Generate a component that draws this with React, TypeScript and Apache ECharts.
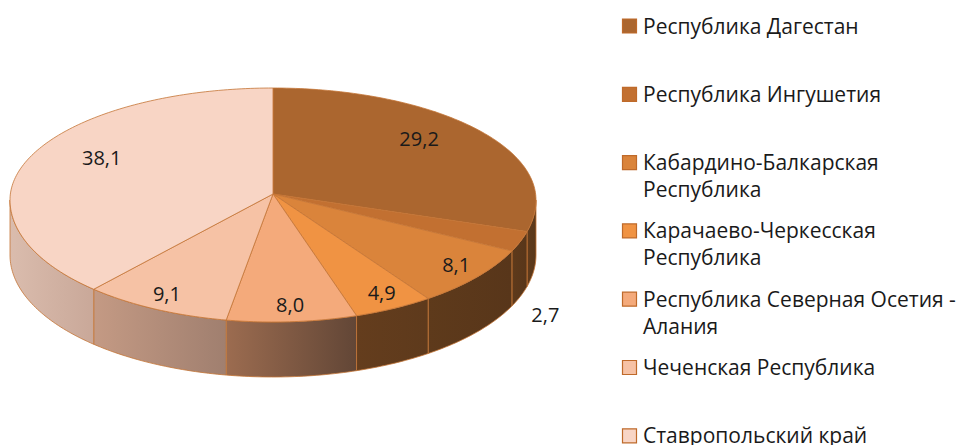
import React, { useEffect, useRef } from "react";
import * as echarts from "echarts";

// ---- data ----
const REGIONS: string[] = [
  "Республика Дагестан",
  "Республика Ингушетия",
  "Кабардино-Балкарская Республика",
  "Карачаево-Черкесская Республика",
  "Республика Северная Осетия - Алания",
  "Чеченская Республика",
  "Ставропольский край",
];
const LEGEND_LABELS: string[] = [
  "Республика Дагестан",
  "Республика Ингушетия",
  "Кабардино-Балкарская\nРеспублика",
  "Карачаево-Черкесская\nРеспублика",
  "Республика Северная Осетия -\nАлания",
  "Чеченская Республика",
  "Ставропольский край",
];
const VALUES: number[] = [29.2, 2.7, 8.1, 4.9, 8.0, 9.1, 38.1];

// ---- style ----
const TOP_COLORS = ["#AB662F", "#C27031", "#DA843B", "#F09343", "#F4AA7B", "#F6C2A5", "#F8D5C5"];
const SIDE_COLORS: [string, string][] = [
  ["#603B1C", "#5A381A"],
  ["#5E3A1B", "#58361A"],
  ["#5E3A1B", "#58361A"],
  ["#643D1D", "#5E3A1C"],
  ["#9C6C50", "#624636"],
  ["#C49A84", "#A07F6F"],
  ["#DABCAD", "#C9A899"],
];
const EDGE = "#C47536";
const FONT = "'Open Sans'";

const CX = 273;
const APEX_Y = 194;
const EQ_Y = 200;
const RX = 263;
const RY_BACK = 112;
const RY_FRONT = 122;
const DEPTH = 55;

const TOTAL = VALUES.reduce((a, b) => a + b, 0);
const STARTS: number[] = [];
{
  let acc = 0;
  for (const v of VALUES) {
    STARTS.push((acc / TOTAL) * Math.PI * 2);
    acc += v;
  }
}

function pt(phi: number, dy = 0): [number, number] {
  const c = Math.cos(phi);
  const y = c >= 0 ? EQ_Y - RY_BACK * c : EQ_Y - RY_FRONT * c;
  return [CX + RX * Math.sin(phi), y + dy];
}

function arc(a0: number, a1: number, dy = 0): [number, number][] {
  const n = Math.max(2, Math.ceil(((a1 - a0) * 180) / Math.PI));
  const out: [number, number][] = [];
  for (let k = 0; k <= n; k++) out.push(pt(a0 + ((a1 - a0) * k) / n, dy));
  return out;
}

function fmt(v: number) {
  return v.toFixed(1).replace(".", ",");
}

export default function App() {
  const ref = useRef<HTMLDivElement>(null);
  useEffect(() => {
    if (!ref.current) return;
    const chart = echarts.init(ref.current, undefined, { renderer: "svg" });
    const data = VALUES.map((v, i) => ({ name: REGIONS[i], value: v }));

    const sideSeries = {
      type: "custom",
      name: "sides",
      coordinateSystem: "none",
      silent: true,
      z: 1,
      data,
      renderItem: (params: any, api: any) => {
        const i = params.dataIndex;
        const v = api.value(0);
        const a0 = STARTS[i];
        const a1 = a0 + (v / TOTAL) * Math.PI * 2;
        const s = Math.max(a0, Math.PI / 2);
        const e = Math.min(a1, (Math.PI * 3) / 2);
        if (e <= s) return { type: "group", children: [] };
        const top = arc(s, e, 0);
        const bottom = arc(s, e, DEPTH).reverse();
        return {
          type: "polygon",
          shape: { points: top.concat(bottom) },
          style: {
            fill: {
              type: "linear",
              x: 0,
              y: 0,
              x2: 1,
              y2: 0,
              colorStops: [
                { offset: 0, color: SIDE_COLORS[i][0] },
                { offset: 1, color: SIDE_COLORS[i][1] },
              ],
            },
            stroke: EDGE,
            lineWidth: 0.8,
          },
        };
      },
    };

    const topSeries = {
      type: "custom",
      name: "tops",
      coordinateSystem: "none",
      silent: true,
      z: 2,
      data,
      renderItem: (params: any, api: any) => {
        const i = params.dataIndex;
        const v = api.value(0);
        const a0 = STARTS[i];
        const a1 = a0 + (v / TOTAL) * Math.PI * 2;
        const pts: [number, number][] = [[CX, APEX_Y], ...arc(a0, a1, 0)];
        const mid = (a0 + a1) / 2;
        const edge = pt(mid);
        let lx: number, ly: number;
        if (v < 3) {
          lx = edge[0] + 25;
          ly = edge[1] + DEPTH + 18;
        } else if (Math.cos(mid) > 0) {
          const f = 0.7;
          lx = CX + (edge[0] - CX) * f;
          ly = APEX_Y + (edge[1] - APEX_Y) * f - 12;
        } else {
          const f = 0.9;
          lx = CX + (edge[0] - CX) * f;
          ly = APEX_Y + (edge[1] - APEX_Y) * f - 4;
        }
        return {
          type: "group",
          children: [
            {
              type: "polygon",
              shape: { points: pts },
              style: { fill: TOP_COLORS[i], stroke: EDGE, lineWidth: 0.8 },
            },
            {
              type: "text",
              z2: 10,
              style: {
                x: lx,
                y: ly,
                text: fmt(v),
                fill: "#1a1a1a",
                font: `20px ${FONT}`,
                align: "center",
                verticalAlign: "middle",
              },
            },
          ],
        };
      },
    };

    const legendEls: any[] = [];
    LEGEND_LABELS.forEach((label, i) => {
      const cy = 26 + i * 68.3;
      legendEls.push({
        type: "rect",
        shape: { x: 622.5, y: cy - 7, width: 14, height: 14 },
        style: { fill: TOP_COLORS[i], stroke: "#BF6A2A", lineWidth: 1.2 },
      });
      legendEls.push({
        type: "text",
        x: 643,
        y: cy - 14,
        style: {
          text: label,
          fill: "#1a1a1a",
          font: `21px ${FONT}`,
          lineHeight: 27,
          verticalAlign: "top",
          align: "left",
        },
      });
    });

    chart.setOption({
      animation: false,
      backgroundColor: "#ffffff",
      series: [sideSeries, topSeries],
      graphic: { elements: legendEls },
    } as any);
    return () => chart.dispose();
  }, []);
  return <div ref={ref} style={{ width: 957, height: 445, position: "absolute", left: 0, top: 0 }} />;
}
